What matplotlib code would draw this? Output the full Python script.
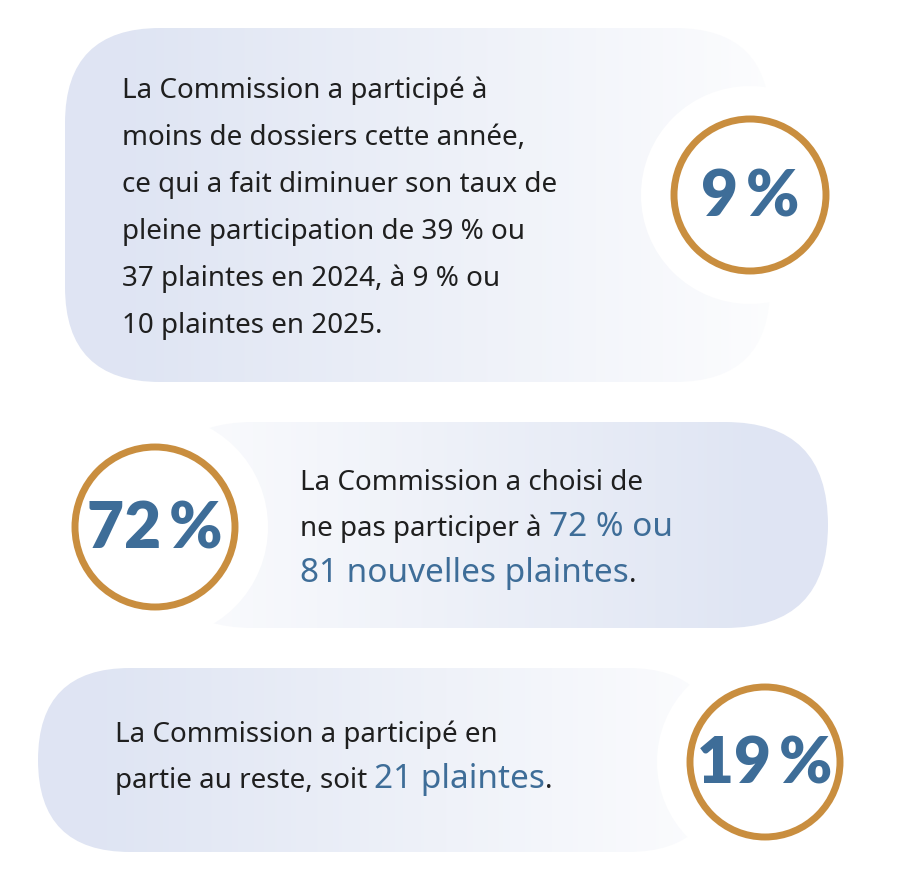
import numpy as np
import matplotlib.pyplot as plt
from matplotlib.patches import FancyBboxPatch, Circle

W, H = 924, 894
ring_color = "#c98e3f"
blue = "#3e6d98"
dark = "#1f1f1f"
light = np.array([0.875, 0.898, 0.953])

# panel texts: list of lines, each a list of (text, bold)
lines1 = [[("La Commission a participé à", False)],
          [("moins de dossiers cette année,", False)],
          [("ce qui a fait diminuer son taux de", False)],
          [("pleine participation de 39 % ou", False)],
          [("37 plaintes en 2024, à 9 % ou", False)],
          [("10 plaintes en 2025.", False)]]
lines2 = [[("La Commission a choisi de", False)],
          [("ne pas participer à ", False), ("72 % ou", True)],
          [("81 nouvelles plaintes", True), (".", False)]]
lines3 = [[("La Commission a participé en", False)],
          [("partie au reste, soit ", False), ("21 plaintes", True), (".", False)]]
pcts = ["9\u2009%", "72\u2009%", "19\u2009%"]

fig = plt.figure(figsize=(W / 100, H / 100), dpi=100)
ax = fig.add_axes([0, 0, 1, 1])
ax.set_xlim(0, W)
ax.set_ylim(H, 0)
ax.axis("off")
plt.rcParams['font.family'] = ['Noto Sans', 'DejaVu Sans']


def panel(x0, y0, x1, y1, r, left_dark):
    p = FancyBboxPatch((x0 + r, y0 + r), x1 - x0 - 2 * r, y1 - y0 - 2 * r,
                       boxstyle="round,pad=%f" % r, fc="none", ec="none")
    ax.add_patch(p)
    t = np.linspace(0, 1, 256)
    if not left_dark:
        t = t[::-1]
    t = np.clip((t - 0.1) / 0.9, 0, 1)
    grad = light[None, :] * (1 - t[:, None] * 0.9) + np.ones(3) * t[:, None] * 0.9
    im = ax.imshow(grad[None, :, :], extent=(x0, x1, y1, y0), aspect="auto", zorder=1)
    im.set_clip_path(p)


def badge(cx, cy, rr, label, fs):
    ax.add_patch(Circle((cx, cy), rr + 33, fc="white", ec="none", zorder=2))
    ax.add_patch(Circle((cx, cy), rr, fc="white", ec=ring_color, lw=5, zorder=3))
    ax.text(cx, cy + 3, label, ha="center", va="center", fontsize=fs,
            fontweight="heavy", color=blue, zorder=4, family=["Lato", "DejaVu Sans"])


def write(x, y, lines, dy, fs=20):
    r = fig.canvas.get_renderer()
    for i, segs in enumerate(lines):
        xx = x
        for s, b in segs:
            t = ax.text(xx, y + i * dy, s, fontsize=fs + (4 if b else 0),
                        fontweight="bold" if b else "normal",
                        color=blue if b else dark, va="baseline", zorder=5)
            bb = t.get_window_extent(renderer=r)
            xx += bb.width


panel(65, 28, 770, 382, 95, True)
panel(150, 422, 828, 628, 103, False)
panel(38, 668, 720, 852, 92, True)

badge(750, 195, 76, pcts[0], 46)
badge(155, 527, 80, pcts[1], 46)
badge(765, 762, 75, pcts[2], 46)

write(122, 98, lines1, 47)
write(300, 490, lines2, 46)
write(115, 742, lines3, 46)

fig.savefig("out.png", dpi=100)
